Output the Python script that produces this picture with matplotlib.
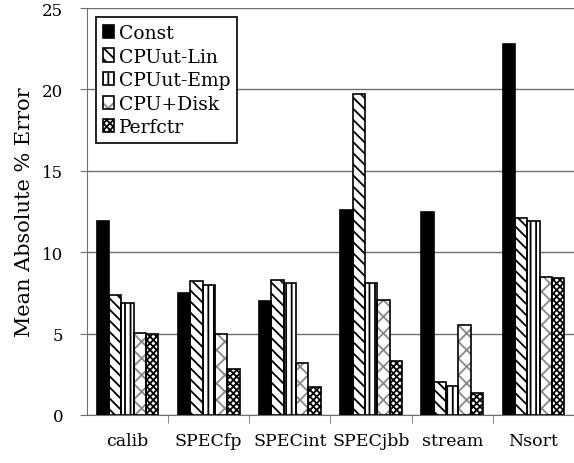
import matplotlib.pyplot as plt
import numpy as np
from matplotlib.patches import Patch
from matplotlib.legend_handler import HandlerTuple

# Benchmarks and errors per model
categories = ["calib", "SPECfp", "SPECint", "SPECjbb", "stream", "Nsort"]
const = [11.9, 7.5, 7.0, 12.6, 12.5, 22.8]
cpu_lin = [7.35, 8.25, 8.3, 19.7, 2.05, 12.1]
cpu_emp = [6.9, 8.0, 8.1, 8.1, 1.8, 11.9]
cpu_disk = [5.05, 5.0, 3.2, 7.05, 5.55, 8.45]
perfctr = [4.95, 2.85, 1.75, 3.3, 1.35, 8.4]

series = [
    ("Const", const, "black", "", "black"),
    ("CPUut-Lin", cpu_lin, "white", "\\\\\\", "black"),
    ("CPUut-Emp", cpu_emp, "white", "|||", "black"),
    ("CPU+Disk", cpu_disk, "white", "xx", "#888888"),
    ("Perfctr", perfctr, "white", "xxxxx", "black"),
]

plt.rcParams['font.family'] = ['DejaVu Serif']
plt.rcParams['hatch.linewidth'] = 1.3

fig = plt.figure(figsize=(5.74, 4.64), dpi=100)
ax = fig.add_axes([87 / 574, 48 / 464, 487 / 574, 407 / 464])

x = np.arange(len(categories))
w = 0.152
handles = []
for i, (label, vals, face, hatch, hcol) in enumerate(series):
    pos = x - 2 * w + i * w
    ax.bar(pos, vals, w, color=face, edgecolor=hcol, hatch=hatch, linewidth=0, zorder=3)
    ax.bar(pos, vals, w, fill=False, edgecolor="black", linewidth=1.2, zorder=4)
    h1 = Patch(facecolor=face, edgecolor=hcol, hatch=hatch, linewidth=0)
    h2 = Patch(fill=False, edgecolor="black", linewidth=1.2)
    handles.append((h1, h2))

ax.set_xlim(-0.5, len(categories) - 0.5)
ax.set_ylim(0, 25)
ax.set_yticks([0, 5, 10, 15, 20, 25])
ax.set_xticks(x)
ax.set_xticklabels(categories, fontsize=12.5)
ax.tick_params(axis="x", length=0, pad=12)
ax.set_xticks(np.arange(0.5, len(categories) - 0.5, 1), minor=True)
ax.tick_params(axis="x", which="minor", length=6, direction="out", color="#707070")
ax.tick_params(axis="y", length=5, direction="out", color="#707070", labelsize=12, pad=12)
ax.yaxis.grid(True, color="#707070", linewidth=1.0, zorder=0)
ax.set_axisbelow(True)
for s in ["top", "right"]:
    ax.spines[s].set_visible(False)
ax.spines["left"].set_color("#707070")
ax.spines["bottom"].set_color("#707070")
ax.set_ylabel("Mean Absolute % Error", fontsize=15, labelpad=6)

leg = ax.legend(handles, [s[0] for s in series], handler_map={tuple: HandlerTuple(ndivide=1, pad=0)},
                loc="upper left", bbox_to_anchor=(0.0, 1.0), fontsize=13.5,
                handlelength=0.6, handleheight=0.7, handletextpad=0.25, labelspacing=0.3,
                fancybox=False, framealpha=1, edgecolor="black", borderpad=0.35)
leg.get_frame().set_linewidth(1.2)

plt.savefig("out.png")
plt.close()
